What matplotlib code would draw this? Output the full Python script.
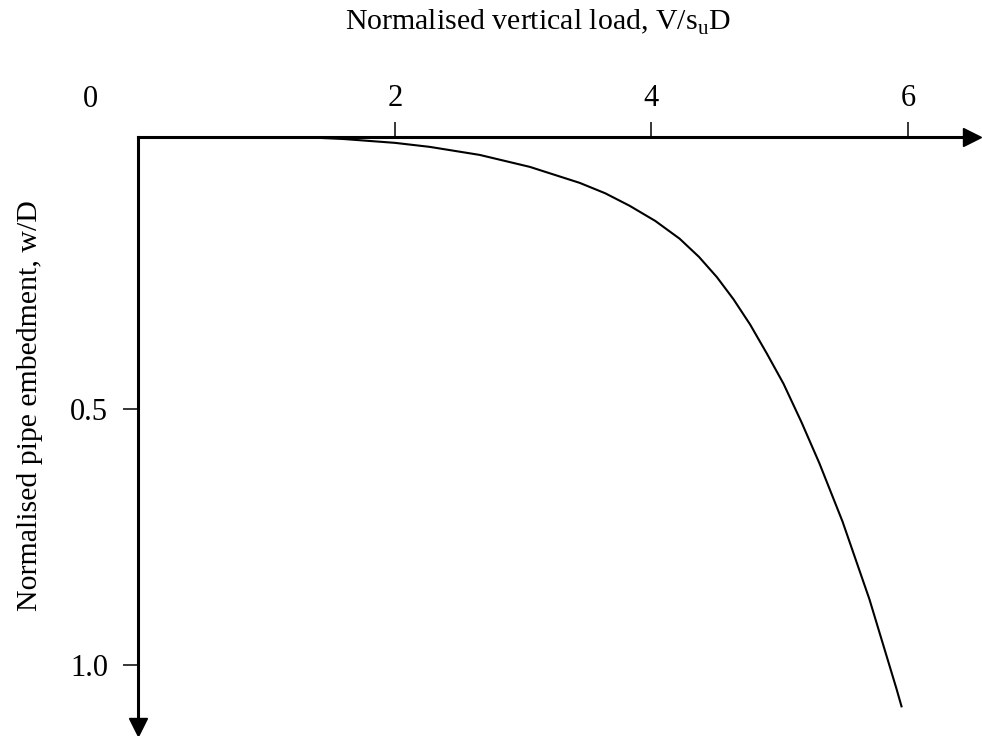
import numpy as np
import matplotlib.pyplot as plt

plt.rcParams['font.family'] = 'Liberation Serif'
plt.rcParams['mathtext.fontset'] = 'custom'
plt.rcParams['mathtext.rm'] = 'Liberation Serif'

# load-embedment response of the pipe
load = [0.0, 1.0, 1.3, 1.6, 2.0, 2.27, 2.66, 3.05, 3.44, 3.64, 3.83, 4.03,
        4.22, 4.37, 4.51, 4.64, 4.77, 4.90, 5.03, 5.17, 5.31, 5.49, 5.70, 5.91, 5.95]
embed = [-0.031, -0.031, -0.0305, -0.027, -0.0195, -0.0117, 0.004, 0.0273, 0.0586, 0.079,
         0.1034, 0.133, 0.1677, 0.203, 0.2426, 0.286, 0.3355, 0.392, 0.451, 0.526,
         0.6065, 0.72, 0.872, 1.046, 1.081]

xticks = [2, 4, 6]
xtick_labels = ['2', '4', '6']
yticks = [0.5, 1.0]
ytick_labels = ['0.5', '1.0']

xmax = 6.56
ytop, ybot = -0.031, 1.133

fig = plt.figure(figsize=(9.82, 7.36), dpi=100)
ax = fig.add_axes([0.1410, 0.0041, 0.8567, 0.8098])

ax.plot(load, embed, color='black', lw=1.5, solid_joinstyle='round')

ax.set_xlim(0, xmax)
ax.set_ylim(ybot, ytop)

for s in ['bottom', 'right']:
    ax.spines[s].set_visible(False)
ax.spines['top'].set_linewidth(2.2)
ax.spines['left'].set_linewidth(2.2)
ax.spines['top'].set_bounds(0, xmax - 0.1)
ax.spines['left'].set_bounds(ytop, ybot - 0.025)

# arrow heads at the axis ends
ax.plot([xmax - 0.06], [ytop], marker='>', ms=13, color='black', clip_on=False)
ax.plot([0], [ybot - 0.012], marker='v', ms=13, color='black', clip_on=False)

ax.xaxis.tick_top()
ax.set_xticks(xticks)
ax.set_xticklabels(xtick_labels)
ax.set_yticks(yticks)
ax.set_yticklabels(ytick_labels)
ax.tick_params(axis='both', direction='out', length=11, width=1.1, labelsize=22)
ax.tick_params(axis='x', pad=6)
ax.tick_params(axis='y', pad=11)

ax.text(-0.378, -0.1035, '0', fontsize=22, ha='center', va='center', clip_on=False)

fig.text(538 / 982, 1 - 22 / 736, r'Normalised vertical load, V/s$_\mathregular{u}$D',
         fontsize=21.5, ha='center', va='center')
fig.text(30 / 982, 1 - 406 / 736, 'Normalised pipe embedment, w/D',
         fontsize=21.5, ha='center', va='center', rotation=90)

fig.savefig('out.png', dpi=100, facecolor='white')
